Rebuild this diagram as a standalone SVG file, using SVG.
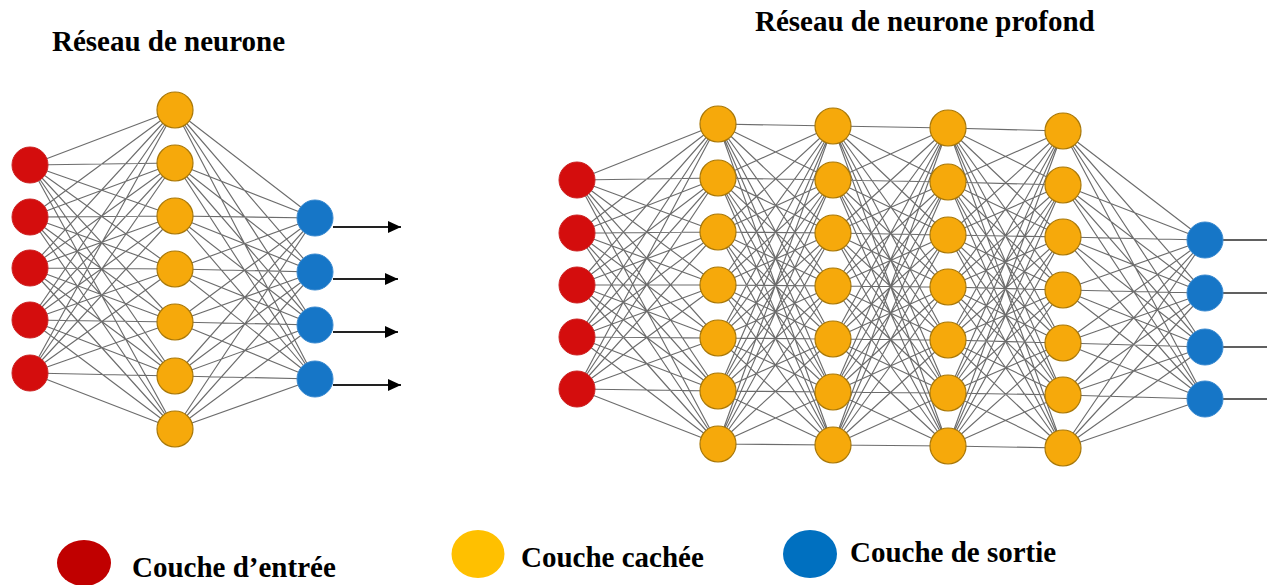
<svg xmlns="http://www.w3.org/2000/svg" width="1267" height="585" viewBox="0 0 1267 585">
<style>
.t{font-family:"Liberation Serif","Times New Roman",serif;font-weight:bold;font-size:29px;fill:#000}
.e{fill:none;stroke:#333;stroke-opacity:0.72;stroke-width:1.15}
.out{fill:none;stroke:#222;stroke-width:1.8}
.in{fill:#d40d0d;stroke:#c22;stroke-width:1}
.hid{fill:#f6a90b;stroke:#a8780a;stroke-width:1.2}
.op{fill:#1676c7;stroke:#3a8ad0;stroke-width:1}
</style>
<defs>
<marker id="arr" markerWidth="13" markerHeight="12" refX="13" refY="6" orient="auto" markerUnits="userSpaceOnUse" viewBox="0 0 13 12">
<path d="M0 0L13 6L0 12Z" fill="#000"/>
</marker>
</defs>
<rect width="1267" height="585" fill="#fff"/>
<g id="titles">
<text class="t" x="52" y="51">Réseau de neurone</text>
<text class="t" x="755" y="31">Réseau de neurone profond</text>
</g>
<g id="connectors">
<path class="e" d="M30 165L175 110M30 165L175 163M30 165L175 216M30 165L175 269M30 165L175 322M30 165L175 376M30 165L175 429M30 217L175 110M30 217L175 163M30 217L175 216M30 217L175 269M30 217L175 322M30 217L175 376M30 217L175 429M30 268L175 110M30 268L175 163M30 268L175 216M30 268L175 269M30 268L175 322M30 268L175 376M30 268L175 429M30 320L175 110M30 320L175 163M30 320L175 216M30 320L175 269M30 320L175 322M30 320L175 376M30 320L175 429M30 373L175 110M30 373L175 163M30 373L175 216M30 373L175 269M30 373L175 322M30 373L175 376M30 373L175 429"/>
<path class="e" d="M175 110L315 218M175 110L315 272M175 110L315 325M175 110L315 379M175 163L315 218M175 163L315 272M175 163L315 325M175 163L315 379M175 216L315 218M175 216L315 272M175 216L315 325M175 216L315 379M175 269L315 218M175 269L315 272M175 269L315 325M175 269L315 379M175 322L315 218M175 322L315 272M175 322L315 325M175 322L315 379M175 376L315 218M175 376L315 272M175 376L315 325M175 376L315 379M175 429L315 218M175 429L315 272M175 429L315 325M175 429L315 379"/>
<path class="out" marker-end="url(#arr)" d="M333 227L401 227"/>
<path class="out" marker-end="url(#arr)" d="M333 279L398 279"/>
<path class="out" marker-end="url(#arr)" d="M333 332L398 332"/>
<path class="out" marker-end="url(#arr)" d="M333 385L401 385"/>
<path class="e" d="M577 180L718 124M577 180L718 178M577 180L718 232M577 180L718 285M577 180L718 338M577 180L718 391M577 180L718 444M577 233L718 124M577 233L718 178M577 233L718 232M577 233L718 285M577 233L718 338M577 233L718 391M577 233L718 444M577 285L718 124M577 285L718 178M577 285L718 232M577 285L718 285M577 285L718 338M577 285L718 391M577 285L718 444M577 337L718 124M577 337L718 178M577 337L718 232M577 337L718 285M577 337L718 338M577 337L718 391M577 337L718 444M577 389L718 124M577 389L718 178M577 389L718 232M577 389L718 285M577 389L718 338M577 389L718 391M577 389L718 444"/>
<path class="e" d="M718 124L833 126M718 124L833 180M718 124L833 233M718 124L833 286M718 124L833 339M718 124L833 392M718 124L833 445M718 178L833 126M718 178L833 180M718 178L833 233M718 178L833 286M718 178L833 339M718 178L833 392M718 178L833 445M718 232L833 126M718 232L833 180M718 232L833 233M718 232L833 286M718 232L833 339M718 232L833 392M718 232L833 445M718 285L833 126M718 285L833 180M718 285L833 233M718 285L833 286M718 285L833 339M718 285L833 392M718 285L833 445M718 338L833 126M718 338L833 180M718 338L833 233M718 338L833 286M718 338L833 339M718 338L833 392M718 338L833 445M718 391L833 126M718 391L833 180M718 391L833 233M718 391L833 286M718 391L833 339M718 391L833 392M718 391L833 445M718 444L833 126M718 444L833 180M718 444L833 233M718 444L833 286M718 444L833 339M718 444L833 392M718 444L833 445"/>
<path class="e" d="M833 126L948 128M833 126L948 182M833 126L948 235M833 126L948 287M833 126L948 340M833 126L948 393M833 126L948 446M833 180L948 128M833 180L948 182M833 180L948 235M833 180L948 287M833 180L948 340M833 180L948 393M833 180L948 446M833 233L948 128M833 233L948 182M833 233L948 235M833 233L948 287M833 233L948 340M833 233L948 393M833 233L948 446M833 286L948 128M833 286L948 182M833 286L948 235M833 286L948 287M833 286L948 340M833 286L948 393M833 286L948 446M833 339L948 128M833 339L948 182M833 339L948 235M833 339L948 287M833 339L948 340M833 339L948 393M833 339L948 446M833 392L948 128M833 392L948 182M833 392L948 235M833 392L948 287M833 392L948 340M833 392L948 393M833 392L948 446M833 445L948 128M833 445L948 182M833 445L948 235M833 445L948 287M833 445L948 340M833 445L948 393M833 445L948 446"/>
<path class="e" d="M948 128L1063 131M948 128L1063 185M948 128L1063 237M948 128L1063 290M948 128L1063 343M948 128L1063 395M948 128L1063 448M948 182L1063 131M948 182L1063 185M948 182L1063 237M948 182L1063 290M948 182L1063 343M948 182L1063 395M948 182L1063 448M948 235L1063 131M948 235L1063 185M948 235L1063 237M948 235L1063 290M948 235L1063 343M948 235L1063 395M948 235L1063 448M948 287L1063 131M948 287L1063 185M948 287L1063 237M948 287L1063 290M948 287L1063 343M948 287L1063 395M948 287L1063 448M948 340L1063 131M948 340L1063 185M948 340L1063 237M948 340L1063 290M948 340L1063 343M948 340L1063 395M948 340L1063 448M948 393L1063 131M948 393L1063 185M948 393L1063 237M948 393L1063 290M948 393L1063 343M948 393L1063 395M948 393L1063 448M948 446L1063 131M948 446L1063 185M948 446L1063 237M948 446L1063 290M948 446L1063 343M948 446L1063 395M948 446L1063 448"/>
<path class="e" d="M1063 131L1205 240M1063 131L1205 293M1063 131L1205 347M1063 131L1205 399M1063 185L1205 240M1063 185L1205 293M1063 185L1205 347M1063 185L1205 399M1063 237L1205 240M1063 237L1205 293M1063 237L1205 347M1063 237L1205 399M1063 290L1205 240M1063 290L1205 293M1063 290L1205 347M1063 290L1205 399M1063 343L1205 240M1063 343L1205 293M1063 343L1205 347M1063 343L1205 399M1063 395L1205 240M1063 395L1205 293M1063 395L1205 347M1063 395L1205 399M1063 448L1205 240M1063 448L1205 293M1063 448L1205 347M1063 448L1205 399"/>
<path fill="none" stroke="#444" stroke-width="1.8" stroke-opacity="0.85" d="M1223 240L1267 240M1223 293L1267 293M1223 347L1267 347M1223 399L1267 399"/>
</g>
<g id="left-input">
<circle class="in" cx="30" cy="165" r="18"/>
<circle class="in" cx="30" cy="217" r="18"/>
<circle class="in" cx="30" cy="268" r="18"/>
<circle class="in" cx="30" cy="320" r="18"/>
<circle class="in" cx="30" cy="373" r="18"/>
</g>
<g id="left-hidden">
<circle class="hid" cx="175" cy="110" r="18"/>
<circle class="hid" cx="175" cy="163" r="18"/>
<circle class="hid" cx="175" cy="216" r="18"/>
<circle class="hid" cx="175" cy="269" r="18"/>
<circle class="hid" cx="175" cy="322" r="18"/>
<circle class="hid" cx="175" cy="376" r="18"/>
<circle class="hid" cx="175" cy="429" r="18"/>
</g>
<g id="left-output">
<circle class="op" cx="315" cy="218" r="18"/>
<circle class="op" cx="315" cy="272" r="18"/>
<circle class="op" cx="315" cy="325" r="18"/>
<circle class="op" cx="315" cy="379" r="18"/>
</g>
<g id="deep-input">
<circle class="in" cx="577" cy="180" r="18"/>
<circle class="in" cx="577" cy="233" r="18"/>
<circle class="in" cx="577" cy="285" r="18"/>
<circle class="in" cx="577" cy="337" r="18"/>
<circle class="in" cx="577" cy="389" r="18"/>
</g>
<g id="deep-hidden-1">
<circle class="hid" cx="718" cy="124" r="18"/>
<circle class="hid" cx="718" cy="178" r="18"/>
<circle class="hid" cx="718" cy="232" r="18"/>
<circle class="hid" cx="718" cy="285" r="18"/>
<circle class="hid" cx="718" cy="338" r="18"/>
<circle class="hid" cx="718" cy="391" r="18"/>
<circle class="hid" cx="718" cy="444" r="18"/>
</g>
<g id="deep-hidden-2">
<circle class="hid" cx="833" cy="126" r="18"/>
<circle class="hid" cx="833" cy="180" r="18"/>
<circle class="hid" cx="833" cy="233" r="18"/>
<circle class="hid" cx="833" cy="286" r="18"/>
<circle class="hid" cx="833" cy="339" r="18"/>
<circle class="hid" cx="833" cy="392" r="18"/>
<circle class="hid" cx="833" cy="445" r="18"/>
</g>
<g id="deep-hidden-3">
<circle class="hid" cx="948" cy="128" r="18"/>
<circle class="hid" cx="948" cy="182" r="18"/>
<circle class="hid" cx="948" cy="235" r="18"/>
<circle class="hid" cx="948" cy="287" r="18"/>
<circle class="hid" cx="948" cy="340" r="18"/>
<circle class="hid" cx="948" cy="393" r="18"/>
<circle class="hid" cx="948" cy="446" r="18"/>
</g>
<g id="deep-hidden-4">
<circle class="hid" cx="1063" cy="131" r="18"/>
<circle class="hid" cx="1063" cy="185" r="18"/>
<circle class="hid" cx="1063" cy="237" r="18"/>
<circle class="hid" cx="1063" cy="290" r="18"/>
<circle class="hid" cx="1063" cy="343" r="18"/>
<circle class="hid" cx="1063" cy="395" r="18"/>
<circle class="hid" cx="1063" cy="448" r="18"/>
</g>
<g id="deep-output">
<circle class="op" cx="1205" cy="240" r="18"/>
<circle class="op" cx="1205" cy="293" r="18"/>
<circle class="op" cx="1205" cy="347" r="18"/>
<circle class="op" cx="1205" cy="399" r="18"/>
</g>
<g id="legend">
<ellipse cx="84" cy="563" rx="27" ry="23" fill="#c00000"/>
<text class="t" x="132" y="577">Couche d’entrée</text>
<ellipse cx="478" cy="554" rx="26.5" ry="24" fill="#ffc000"/>
<text class="t" x="521" y="567">Couche cachée</text>
<ellipse cx="810" cy="554" rx="27" ry="24" fill="#0070c0"/>
<text class="t" x="850" y="562">Couche de sortie</text>
</g>
</svg>
